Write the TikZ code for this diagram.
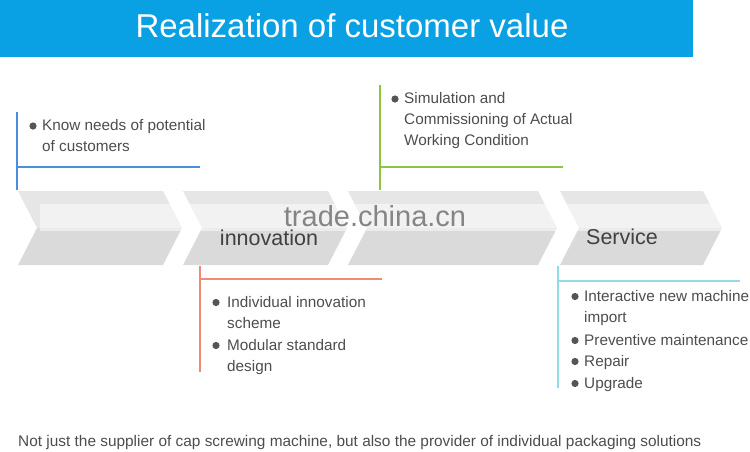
\documentclass[tikz,border=0pt]{standalone}
\usepackage{fontspec}
\setmainfont{Liberation Sans}
\usetikzlibrary{positioning}
\definecolor{Banner}{HTML}{0AA0E4}
\definecolor{Ink}{HTML}{4D4D4D}
\definecolor{Dot}{HTML}{555555}
\definecolor{Blue}{HTML}{4A8FDB}
\definecolor{Green}{HTML}{8CC63F}
\definecolor{Salmon}{HTML}{EE8B72}
\definecolor{Aqua}{HTML}{8FDCE4}
\definecolor{Top}{HTML}{E6E6E6}
\definecolor{Low}{HTML}{DADADA}
\definecolor{Mark}{HTML}{858585}
\tikzset{
  item/.style={anchor=base west,inner sep=0,Ink,align=left,font=\fontsize{15.3}{21}\selectfont},
  stage/.style={text=black!75,font=\fontsize{21.5}{24}\selectfont},
}
% one grey chevron: left edge, right edge
\newcommand{\chev}[2]{%
  \fill[Top](#1,191)--(#2,191)--(#2+19,228)--(#1+19,228)--cycle;
  \fill[Low](#1+19,228)--(#2+19,228)--(#2,265)--(#1,265)--cycle;}

\begin{document}
\begin{tikzpicture}[x=1pt,y=-1pt]
  \useasboundingbox(0,0)rectangle(750,451);
  \fill[Banner](0,0)rectangle(693,57);
  \node[white,font=\fontsize{33}{36}\selectfont](title)at(352,26){Realization of customer value};

  % the four stages
  \chev{18}{163}
  \chev{183}{328}
  \chev{348}{538}
  \chev{560}{703}
  \fill[white,opacity=.5](40,204)rectangle(745,231);
  \node[Mark,font=\fontsize{29}{30}\selectfont](mark)at(375,216){trade.china.cn};
  \node[stage](inno)at(269,238){innovation};
  \node[stage](serv)at(622,237){Service};

  % call-out lines
  \draw[Blue,line width=2.5](17,112)--(17,190);
  \draw[Blue,line width=2.5](17,167)--(200,167);
  \draw[Green,line width=2.5](380,85)--(380,190);
  \draw[Green,line width=2.5](380,167)--(563,167);
  \draw[Salmon,line width=2](200,266)--(200,372);
  \draw[Salmon,line width=2](200,279)--(382,279);
  \draw[Aqua,line width=2](558,266)--(558,388);
  \draw[Aqua,line width=2](558,281)--(740,281);

  % bullets
  \fill[Dot](33,126)circle(3.6);
  \fill[Dot](395,99)circle(3.6);
  \fill[Dot](216,302.5)circle(3.6);
  \fill[Dot](216,345.5)circle(3.6);
  \fill[Dot](575,296.5)circle(3.6);
  \fill[Dot](575,340.5)circle(3.6);
  \fill[Dot](575,361.5)circle(3.6);
  \fill[Dot](575,383.5)circle(3.6);

  % texts, placed on the baseline of their last line
  \node[item](know)at(42,151.5){Know needs of potential\\of customers};
  \node[item](simu)at(404,145.5){Simulation and\\Commissioning of Actual\\Working Condition};
  \node[item](indi)at(227,328.5){Individual innovation\\scheme};
  \node[item](modu)at(227,371.5){Modular standard\\design};
  \node[item](inte)at(584,322.5){Interactive new machine\\import};
  \node[item](prev)at(584,345.5){Preventive maintenance};
  \node[item](repa)at(584,366.5){Repair};
  \node[item](upgr)at(584,388.5){Upgrade};

  \node[item,font=\fontsize{15.4}{18}\selectfont](foot)at(18,446){Not just the supplier of cap screwing machine, but also the provider of individual packaging solutions};
\end{tikzpicture}
\end{document}
